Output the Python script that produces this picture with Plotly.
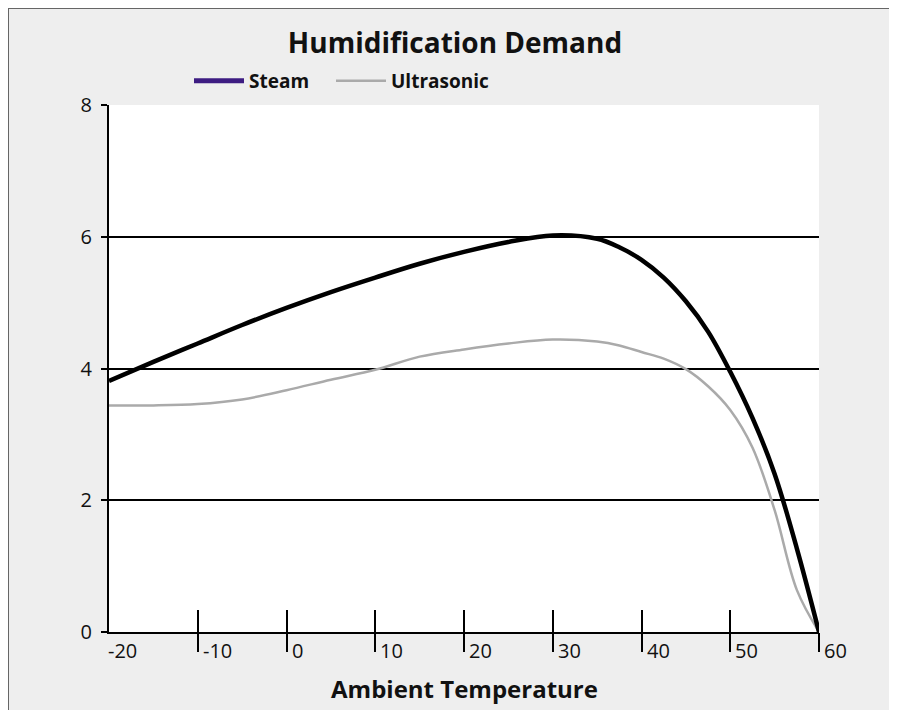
import plotly.graph_objects as go

# ---- data ----
steam_t = [-20, -15, -10, -5, 0, 5, 10, 15, 20, 25, 30, 35, 37.5, 40, 42.5, 45, 47.5, 50, 52.5, 55, 57.5, 60]
steam = [3.81, 4.10, 4.38, 4.66, 4.92, 5.16, 5.38, 5.59, 5.77, 5.92, 6.02, 5.97, 5.84, 5.65, 5.38, 5.02, 4.56, 3.95, 3.25, 2.40, 1.27, 0.0]
ultra_t = [-20, -15, -10, -5, 0, 5, 10, 15, 20, 25, 30, 35, 37.5, 40, 42.5, 45, 47.5, 50, 52.5, 55, 57.5, 60]
ultrasonic = [3.44, 3.44, 3.46, 3.53, 3.67, 3.83, 3.98, 4.18, 4.29, 4.38, 4.44, 4.41, 4.35, 4.25, 4.15, 3.99, 3.73, 3.37, 2.80, 1.85, 0.64, 0.0]
x_ticks = [-20, -10, 0, 10, 20, 30, 40, 50, 60]
x_tick_labels = ["-20", "-10", "0", "10", "20", "30", "40", "50", "60"]
y_ticks = [0, 2, 4, 6, 8]
title = "Humidification Demand"
x_title = "Ambient Temperature"
series_names = ["Steam", "Ultrasonic"]

FONT = "Open Sans"
W, H = 889, 702
ML, MR, MT, MB = 101, 78, 97, 78
PW, PH = W - ML - MR, H - MT - MB

fig = go.Figure()
# legend entries (legend swatch colours differ from drawn lines in the reference)
fig.add_trace(go.Scatter(x=[None], y=[None], mode="lines", name=series_names[0], legend="legend",
                         line=dict(color="#3d1c82", width=5)))
fig.add_trace(go.Scatter(x=[None], y=[None], mode="lines", name=series_names[1], legend="legend2",
                         line=dict(color="#aaaaaa", width=2.5)))
# actual curves
fig.add_trace(go.Scatter(x=ultra_t, y=ultrasonic, mode="lines", showlegend=False,
                         line=dict(color="#aaaaaa", width=2.5, shape="spline", smoothing=1.0),
                         hoverinfo="x+y"))
fig.add_trace(go.Scatter(x=steam_t, y=steam, mode="lines", showlegend=False,
                         line=dict(color="#000000", width=4.5, shape="spline", smoothing=1.0),
                         hoverinfo="x+y"))
# invisible trace on overlay axis so it renders
fig.add_trace(go.Scatter(x=[None], y=[None], xaxis="x2", showlegend=False, hoverinfo="skip"))

annotations = []
for v, lab in zip(x_ticks, x_tick_labels):
    annotations.append(dict(x=v, y=-18.0 / PH, xref="x", yref="paper", text=lab,
                            showarrow=False, xanchor="left", yanchor="middle",
                            xshift=(-3 if v == x_ticks[0] else 3),
                            font=dict(family=FONT, size=20, color="#111111")))
annotations.append(dict(x=0.5, y=-56.0 / PH, xref="paper", yref="paper", text="<b>%s</b>" % x_title,
                        showarrow=False, xanchor="center", yanchor="middle",
                        font=dict(family=FONT, size=24, color="#111111")))

legend_common = dict(orientation="h", y=1 + 24.0 / PH, xanchor="left", yanchor="middle",
                     bgcolor="rgba(0,0,0,0)",
                     font=dict(family=FONT, size=19, color="#111111", weight="bold"))

fig.update_layout(
    width=W, height=H,
    margin=dict(l=ML, r=MR, t=MT, b=MB, autoexpand=False),
    paper_bgcolor="#eeeeee",
    plot_bgcolor="#ffffff",
    title=dict(text="<b>%s</b>" % title, x=447 / W, xanchor="center", xref="container",
               y=1 - 35 / H, yanchor="middle", yref="container",
               font=dict(family=FONT, size=28, color="#111111")),
    legend=dict(x=(181 - ML) / PW, itemwidth=50, **legend_common),
    legend2=dict(x=(323 - ML) / PW, itemwidth=50, **legend_common),
    font=dict(family=FONT, color="#111111"),
    xaxis=dict(range=[-20, 60], tickvals=x_ticks[1:], showticklabels=False,
               ticks="inside", ticklen=22, tickwidth=2, tickcolor="#000000",
               showgrid=False, zeroline=False, showline=True, linecolor="#000000",
               linewidth=2, fixedrange=True),
    xaxis2=dict(range=[-20, 60], overlaying="x", matches="x", anchor="y", side="bottom",
                tickvals=x_ticks[1:], showticklabels=False, ticks="outside", ticklen=19,
                tickwidth=2, tickcolor="#000000", showgrid=False, zeroline=False,
                showline=False),
    yaxis=dict(range=[0, 8], tickvals=y_ticks, ticks="outside", ticklen=6, tickwidth=2,
               tickcolor="#000000", showgrid=True, gridcolor="#000000", gridwidth=2,
               zeroline=False, showline=True, linecolor="#000000", linewidth=2,
               tickfont=dict(family=FONT, size=20, color="#111111"),
               ticklabelstandoff=5, fixedrange=True),
    annotations=annotations,
    shapes=[
        dict(type="line", xref="paper", yref="paper", x0=-ML / PW, x1=1.3, y0=1 + MT / PH, y1=1 + MT / PH,
             line=dict(color="#666666", width=2), layer="above"),
        dict(type="line", xref="paper", yref="paper", x0=-ML / PW, x1=-ML / PW, y0=-0.3, y1=1 + MT / PH,
             line=dict(color="#666666", width=2), layer="above"),
    ],
    showlegend=True,
)

fig.write_html("out.html",
               post_script="document.documentElement.style.overflow='hidden';document.body.style.overflow='hidden';")
